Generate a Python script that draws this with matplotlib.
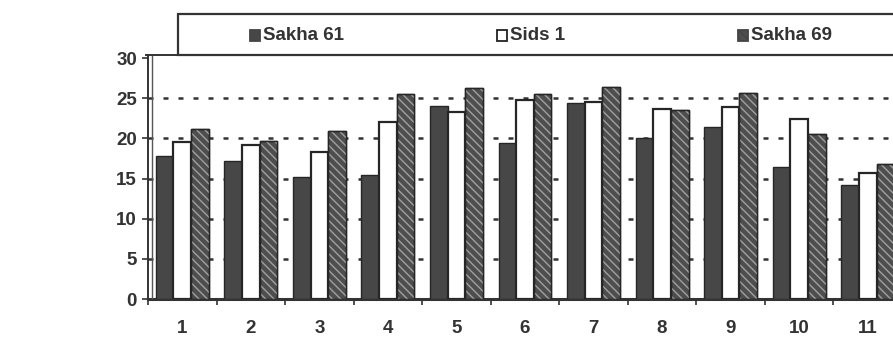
import matplotlib.pyplot as plt
import numpy as np
from matplotlib.patches import Rectangle
from matplotlib.lines import Line2D

plt.rcParams['font.family'] = ['Liberation Sans', 'DejaVu Sans']
plt.rcParams['font.weight'] = 'bold'

categories = ['1', '2', '3', '4', '5', '6', '7', '8', '9', '10', '11']
sakha61 = [17.8, 17.2, 15.2, 15.4, 24.0, 19.4, 24.4, 20.0, 21.4, 16.4, 14.2]
sids1 = [19.6, 19.2, 18.3, 22.0, 23.3, 24.8, 24.6, 23.7, 23.9, 22.4, 15.7]
sakha69 = [21.2, 19.7, 20.9, 25.5, 26.3, 25.5, 26.4, 23.5, 25.7, 20.5, 16.8]
series_names = ['Sakha 61', 'Sids 1', 'Sakha 69']

W, H = 893, 338
fig = plt.figure(figsize=(W / 100, H / 100), dpi=100, facecolor='white')
# plot area runs a little past the right edge of the figure
ax = fig.add_axes([148 / W, 39 / H, (902 - 148) / W, (299 - 55) / H])

x = np.arange(1, len(categories) + 1)
bw = 0.257
dark = '#474747'
edge = '#262626'
txt = '#333333'

ax.bar(x - bw, sakha61, bw, color=dark, edgecolor=edge, linewidth=1.0, zorder=3)
ax.bar(x, sids1, bw, color='white', edgecolor=edge, linewidth=1.6, zorder=3)
ax.bar(x + bw, sakha69, bw, color='#4e4e4e', edgecolor=edge, linewidth=1.0, zorder=3)
ax.bar(x + bw, sakha69, bw, color='none', edgecolor='#a0a0a0', hatch='\\\\\\\\',
       linewidth=0, zorder=4)
ax.bar(x + bw, sakha69, bw, color='none', edgecolor=edge, linewidth=1.0, zorder=5)

ax.set_xlim(0.5, 11.5)
ax.set_ylim(0, 30.4)
ax.set_yticks([0, 5, 10, 15, 20, 25, 30])
ax.set_xticks(x)
ax.set_xticklabels(categories)
ax.set_xticks(np.arange(0.5, 12, 1), minor=True)
ax.tick_params(axis='x', which='major', length=0, pad=15, labelsize=13.5, labelcolor=txt)
ax.tick_params(axis='x', which='minor', length=4, width=1.2, color='#333333')
ax.tick_params(axis='y', length=4, width=1.2, color='#333333', pad=4,
               labelsize=13.5, labelcolor=txt)

for v in [5, 10, 15, 20, 25]:
    ax.axhline(v, color='#333333', linestyle=(0, (2, 4)), linewidth=1.8, zorder=1)

for s in ['top', 'right']:
    ax.spines[s].set_visible(False)
ax.spines['left'].set_linewidth(1.4)
ax.spines['left'].set_color('#333333')
ax.spines['bottom'].set_linewidth(2.2)
ax.spines['bottom'].set_color('#333333')

# double wall line on the left and the short top edge
fig.add_artist(Line2D([152 / W, 152 / W], [1 - 298 / H, 1 - 55 / H],
                      color='#555555', linewidth=1.0))
fig.add_artist(Line2D([146 / W, 180 / W], [1 - 55 / H, 1 - 55 / H],
                      color='#333333', linewidth=1.4))

# legend box across the top
fig.add_artist(Rectangle((178 / W, 1 - 55 / H), (W + 10 - 178) / W, 41 / H,
                         transform=fig.transFigure, facecolor='white',
                         edgecolor='#333333', linewidth=1.6, clip_on=False))
swatch = [dict(fc=dark, hatch=None), dict(fc='white', hatch=None),
          dict(fc='#4e4e4e', hatch='\\\\\\\\')]
sx = [250, 497, 738]
for name, st, px in zip(series_names, swatch, sx):
    fig.add_artist(Rectangle((px / W, 1 - 41 / H), 10 / W, 11 / H,
                             transform=fig.transFigure, facecolor=st['fc'],
                             edgecolor='#222222' if st['fc'] == 'white' else '#444444',
                             hatch=st['hatch'], linewidth=1.3))
    fig.text((px + 13) / W, 1 - 35.5 / H, name, fontsize=13.5, fontweight='bold',
             color=txt, va='center', ha='left')

fig.savefig('out.png', dpi=100)
